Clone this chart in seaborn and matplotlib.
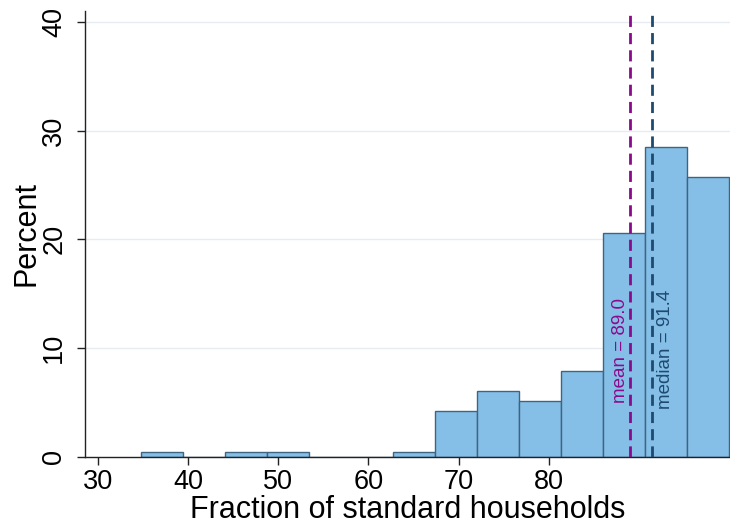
import matplotlib
matplotlib.use("Agg")
import matplotlib.pyplot as plt
import seaborn as sns
import numpy as np

# Histogram bins (edges) and bar heights in percent
bin_edges = [34.8, 39.46, 44.11, 48.77, 53.43, 58.09, 62.74, 67.4,
             72.06, 76.71, 81.37, 86.03, 90.69, 95.34, 100.0]
percent = [0.47, 0.0, 0.47, 0.47, 0.0, 0.0, 0.47,
           4.21, 6.07, 5.14, 7.94, 20.56, 28.5, 25.7]
mean_val = 89.0
median_val = 91.4
x_ticks = [30, 40, 50, 60, 70, 80]
y_ticks = [0, 10, 20, 30, 40]

sns.set_style("white")
plt.rcParams['font.family'] = ['Liberation Sans', 'DejaVu Sans']
plt.rcParams['text.color'] = 'black'
plt.rcParams['axes.labelcolor'] = 'black'
plt.rcParams['xtick.color'] = 'black'
plt.rcParams['ytick.color'] = 'black'

centers = [(a + b) / 2 for a, b in zip(bin_edges[:-1], bin_edges[1:])]

fig = plt.figure(figsize=(7.30, 5.27), dpi=100)
ax = fig.add_axes([0.117, 0.133, 0.883, 0.846])

for y in y_ticks[1:]:
    ax.axhline(y, color='#e6ecf1', lw=1.0, zorder=0)

sns.histplot(x=centers, weights=percent, bins=bin_edges, stat='count',
             color='#85bfe8', edgecolor='#3e6580', linewidth=1.0,
             alpha=1.0, ax=ax, zorder=2)

ax.axvline(mean_val, color='#8b0a8b', lw=2.0, ls=(0, (4, 2.2)), zorder=3)
ax.axvline(median_val, color='#1f4a70', lw=2.0, ls=(0, (4, 2.2)), zorder=3)

ax.text(mean_val - 0.15, 5.0, f"mean = {mean_val:.1f}", rotation=90,
        color='#8b0a8b', fontsize=13.5, ha='right', va='bottom', zorder=4)
ax.text(median_val + 0.65, 4.4, f"median = {median_val:.1f}", rotation=90,
        color='#1f4a70', fontsize=13.5, ha='left', va='bottom', zorder=4)

ax.set_xlim(28.6, 100.1)
ax.set_ylim(0, 41)
ax.set_xticks(x_ticks)
ax.set_yticks(y_ticks)
ax.set_xticklabels([str(t) for t in x_ticks], fontsize=19.5)
ax.set_yticklabels([str(t) for t in y_ticks], fontsize=19.5, rotation=90, va='center')
ax.tick_params(axis='x', length=6, width=1, color='#222222', pad=3, direction='out', bottom=True)
ax.tick_params(axis='y', length=6, width=1, color='#222222', pad=7, direction='out', left=True)
ax.set_xlabel("Fraction of standard households", fontsize=22, labelpad=0)
ax.set_ylabel("Percent", fontsize=22, labelpad=0)

for s in ['top', 'right']:
    ax.spines[s].set_visible(False)
for s in ['left', 'bottom']:
    ax.spines[s].set_color('#222222')
    ax.spines[s].set_linewidth(1.0)

fig.savefig("out.png", dpi=100)
